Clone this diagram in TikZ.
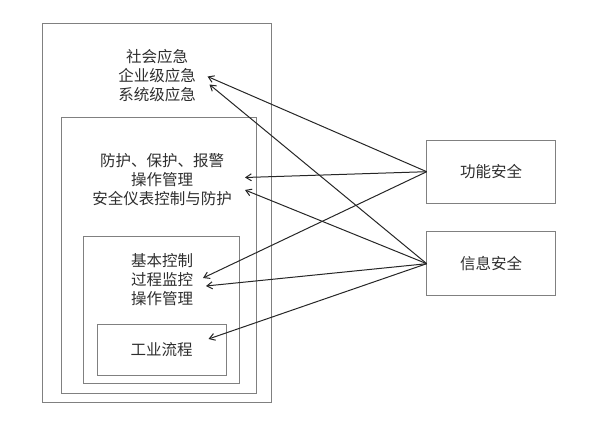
\documentclass[tikz,border=0pt]{standalone}
\usepackage{fontspec}
\setmainfont{Noto Sans CJK SC}
\usetikzlibrary{arrows.meta}
\definecolor{boxgray}{HTML}{808080}
\definecolor{txtgray}{HTML}{2E2E2E}
\tikzset{
  layer/.style={draw=boxgray, line width=0.9pt, inner sep=0pt, outer sep=0pt},
  label/.style={text=txtgray, align=center, font=\fontsize{15.5}{19}\selectfont},
  link/.style={-{Straight Barb[length=5.5pt,width=7pt]}, line width=1pt, draw=black!85}
}
\begin{document}
\begin{tikzpicture}[x=1pt, y=-1pt]
        \useasboundingbox (0,0) rectangle (597,422);

        % Nested layers
        \node[layer, minimum width=229pt, minimum height=379pt] (outer) at (156.5, 212.5) {};
        \node[layer, minimum width=195pt, minimum height=276pt] (middle) at (158.5, 255.3) {};
        \node[layer, minimum width=156pt, minimum height=147pt] (inner) at (161.3, 309.7) {};
        \node[layer, label, minimum width=129pt, minimum height=51pt] (proc) at (161.7, 349.5) {工业流程};

        % Labels
        \node[label] (emerg) at (157, 76) {社会应急\\企业级应急\\系统级应急};
        \node[label] (guard) at (162, 180) {防护、保护、报警\\操作管理\\安全仪表控制与防护};
        \node[label] (basic) at (162, 279.5) {基本控制\\过程监控\\操作管理};

        % Safety boxes
        \node[layer, label, minimum width=129pt, minimum height=63pt] (func) at (491.2, 171.7) {功能安全};
        \node[layer, label, minimum width=129pt, minimum height=64pt] (info) at (491.2, 263.7) {信息安全};

        % Arrow targets
        \coordinate (e1) at (207.5, 76.5);
        \coordinate (e2) at (209.5, 84.5);
        \coordinate (g1) at (245, 177.5);
        \coordinate (g2) at (245, 190);
        \coordinate (b1) at (203, 278);
        \coordinate (b2) at (206, 286);
        \coordinate (p1) at (208.5, 339);

        % Functional safety
        \draw[link] (func.west) -- (e1);
        \draw[link] (func.west) -- (g1);
        \draw[link] (func.west) -- (b1);

        % Information security
        \draw[link] (info.west) -- (e2);
        \draw[link] (info.west) -- (g2);
        \draw[link] (info.west) -- (b2);
        \draw[link] (info.west) -- (p1);

    \end{tikzpicture}
\end{document}
